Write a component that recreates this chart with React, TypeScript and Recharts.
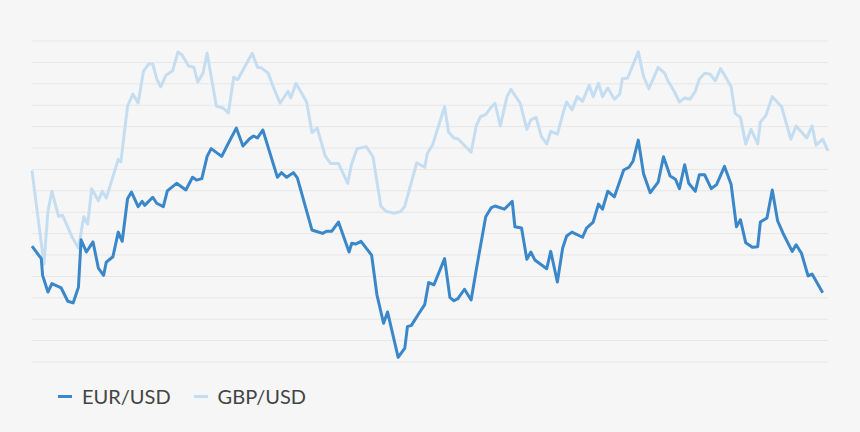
import { CartesianGrid, Line, LineChart, XAxis, YAxis } from "recharts";

// [trading day, index value]
const eurUsd: [number, number][] = [
  [0, 54.1], [7, 48.3], [8, 40.5], [12, 32.7], [15, 36.6], [22, 34.6], [27, 28.4], [31, 27.6],
  [35, 34.9], [37, 57.1], [41, 51.4], [46, 56.1], [50, 43.9], [54, 40.5], [56, 46.7], [61, 49.2],
  [65, 60.7], [68, 56.4], [72, 76.3], [75, 79.4], [80, 72.6], [83, 75.1], [85, 73.2], [91, 77.0],
  [94, 74.2], [99, 72.6], [102, 80.0], [109, 83.5], [116, 80.4], [121, 86.3], [124, 85.0], [128, 85.7],
  [132, 96.1], [135, 99.7], [143, 96.1], [148, 102.2], [154, 109.3], [159, 100.9], [164, 104.3], [167, 105.6],
  [170, 104.7], [174, 108.4], [185, 86.3], [188, 88.5], [192, 86.3], [197, 88.5], [200, 86.0], [211, 61.7],
  [214, 61.1], [219, 60.1], [222, 61.1], [226, 61.1], [231, 65.4], [239, 51.4], [241, 55.5], [244, 55.1],
  [248, 56.4], [256, 49.9], [260, 31.4], [265, 18.1], [268, 23.4], [276, 2.2], [281, 6.5], [283, 16.5],
  [286, 17.1], [291, 22.1], [296, 26.8], [299, 37.1], [303, 36.1], [311, 48.3], [315, 30.2], [318, 28.6],
  [321, 29.6], [326, 34.0], [331, 29.0], [335, 43.6], [342, 67.9], [346, 72.0], [349, 72.9], [356, 71.4],
  [362, 75.1], [364, 63.2], [369, 62.6], [373, 48.0], [376, 51.4], [379, 47.7], [388, 43.6], [391, 51.7],
  [396, 37.4], [400, 53.3], [403, 58.9], [407, 60.7], [415, 58.3], [418, 62.6], [423, 65.4], [427, 73.8],
  [430, 71.4], [434, 79.8], [439, 77.2], [446, 89.7], [450, 91.0], [453, 93.8], [457, 103.7], [461, 87.9],
  [466, 79.1], [472, 84.1], [476, 95.9], [481, 86.9], [485, 85.4], [488, 81.0], [492, 92.2], [495, 83.5],
  [500, 79.8], [503, 87.5], [507, 87.5], [512, 81.0], [516, 82.9], [522, 91.4], [527, 82.9], [531, 63.2],
  [534, 66.5], [538, 55.7], [543, 53.6], [547, 53.9], [549, 65.4], [554, 67.3], [558, 80.4], [562, 66.0],
  [566, 60.3], [573, 51.7], [576, 54.8], [580, 50.8], [585, 40.2], [588, 41.1], [596, 32.4],
];

const gbpUsd: [number, number][] = [
  [0, 89.4], [9, 45.8], [12, 70.4], [15, 79.8], [20, 68.1], [23, 68.6], [30, 58.7], [35, 53.3],
  [39, 67.9], [42, 64.5], [45, 81.0], [50, 75.4], [53, 79.8], [56, 76.6], [65, 94.7], [67, 93.5],
  [72, 119.5], [76, 125.2], [80, 121.0], [84, 135.8], [88, 139.3], [91, 139.3], [94, 132.4], [97, 128.6],
  [101, 134.0], [106, 136.1], [110, 144.9], [113, 143.6], [118, 138.3], [122, 137.7], [125, 130.8], [129, 135.2],
  [132, 144.3], [139, 119.5], [144, 118.7], [148, 116.4], [152, 133.0], [155, 131.9], [166, 144.3], [170, 137.7],
  [173, 137.4], [178, 135.0], [182, 128.4], [187, 120.9], [193, 126.5], [195, 123.4], [199, 130.2], [207, 121.5],
  [211, 107.2], [215, 109.3], [221, 96.3], [225, 92.8], [231, 92.8], [238, 83.5], [241, 92.8], [245, 99.7],
  [252, 100.6], [257, 95.9], [263, 72.8], [267, 70.4], [273, 69.5], [278, 70.4], [281, 72.8], [290, 93.1],
  [296, 91.0], [298, 97.5], [302, 101.5], [311, 119.3], [314, 107.5], [318, 104.7], [321, 104.3], [331, 98.1],
  [335, 110.6], [338, 114.6], [342, 115.6], [346, 119.0], [349, 120.9], [353, 110.3], [358, 124.0], [361, 127.4],
  [368, 120.9], [373, 108.7], [376, 113.1], [380, 114.3], [384, 105.3], [388, 101.9], [391, 107.8], [396, 106.5],
  [401, 117.8], [403, 121.5], [407, 117.8], [411, 124.0], [415, 121.8], [420, 129.3], [423, 124.0], [427, 130.2],
  [430, 124.0], [434, 128.0], [439, 122.8], [443, 125.2], [445, 132.4], [449, 132.7], [457, 144.9], [461, 133.3],
  [465, 127.7], [472, 137.7], [477, 134.9], [479, 131.8], [484, 126.5], [488, 121.5], [492, 123.4], [496, 122.8],
  [500, 126.5], [503, 132.1], [507, 134.9], [511, 134.6], [515, 131.4], [519, 137.1], [523, 133.0], [527, 128.6],
  [530, 116.2], [534, 114.3], [538, 101.9], [542, 108.7], [547, 101.9], [549, 112.1], [553, 115.0], [558, 124.0],
  [565, 119.3], [572, 104.1], [576, 110.3], [584, 104.7], [588, 110.3], [591, 101.3], [596, 104.1], [600, 98.7],
];

const yTicks = [0, 10, 20, 30, 40, 50, 60, 70, 80, 90, 100, 110, 120, 130, 140, 150];

const series = [
  { name: "EUR/USD", points: eurUsd, color: "#3a87c9" },
  { name: "GBP/USD", points: gbpUsd, color: "#c5ddf1" },
];

const toRows = (points: [number, number][]) => points.map(([day, value]) => ({ day, value }));

const App = () => {
  return (
    <div
      style={{
        position: "absolute",
        left: 0,
        top: 0,
        width: 860,
        height: 432,
        background: "#f6f6f6",
        fontFamily: "Lato, sans-serif",
      }}
    >
      <LineChart width={860} height={432} margin={{ top: 41, right: 32, bottom: 70, left: 32 }}>
        <CartesianGrid vertical={false} stroke="#e7e7e7" />
        <XAxis dataKey="day" type="number" domain={[0, 600]} hide allowDuplicatedCategory={false} />
        <YAxis type="number" domain={[0, 150]} ticks={yTicks} interval={0} hide />

        {/* light series first so EUR/USD sits on top */}
        {[...series].reverse().map((s) => (
          <Line
            key={s.name}
            data={toRows(s.points)}
            dataKey="value"
            name={s.name}
            type="linear"
            stroke={s.color}
            strokeWidth={3}
            strokeLinejoin="round"
            dot={false}
            activeDot={false}
            isAnimationActive={false}
          />
        ))}
      </LineChart>

      <div
        style={{
          position: "absolute",
          left: 58,
          top: 384,
          display: "flex",
          alignItems: "center",
          fontSize: 20,
          color: "#444",
          lineHeight: "24px",
        }}
      >
        {series.map((s) => (
          <div key={s.name} style={{ display: "flex", alignItems: "center", marginRight: 23 }}>
            <span style={{ width: 14, height: 3, background: s.color, marginRight: 10 }} />
            <span>{s.name}</span>
          </div>
        ))}
      </div>
    </div>
  );
};

export default App;
